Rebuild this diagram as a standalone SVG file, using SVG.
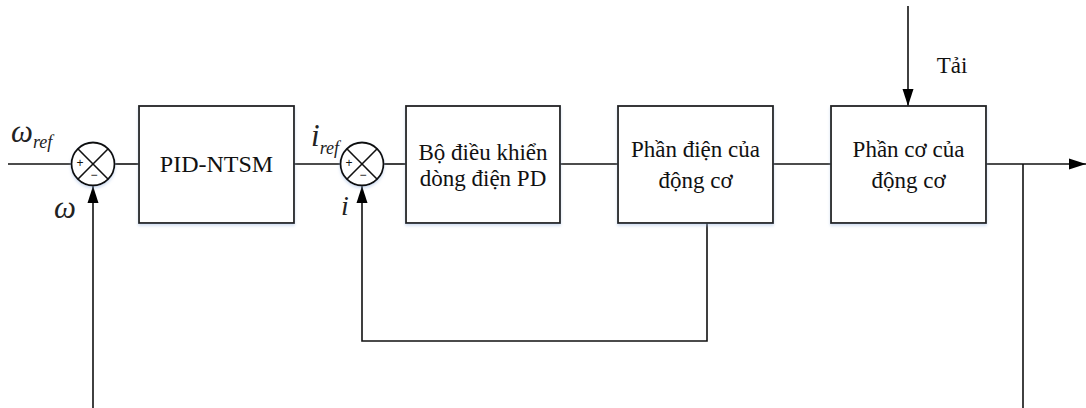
<svg xmlns="http://www.w3.org/2000/svg" width="1086" height="408" viewBox="0 0 1086 408">
  <style>
    .blk { fill: #fff; stroke: #222; stroke-width: 1.8; filter: url(#sh); }
    .sum { fill: #fff; stroke: #111; stroke-width: 1.8; filter: url(#sh); }
    .x { stroke: #111; stroke-width: 1.6; }
    .ln { fill: none; stroke: #111; stroke-width: 1.6; }
    .t { font-family: "Liberation Serif", "DejaVu Serif", serif; font-size: 23px; fill: #111; text-anchor: middle; }
    .sym { font-family: "Liberation Serif", "DejaVu Serif", serif; font-style: italic; fill: #222; }
    .sg { font-family: "Liberation Sans", Arial, sans-serif; font-size: 12px; fill: #111; text-anchor: middle; }
  </style>
  <defs>
    <filter id="sh" x="-10%" y="-10%" width="120%" height="130%">
      <feDropShadow dx="0" dy="2" stdDeviation="1.5" flood-color="#9db8e0" flood-opacity="0.45"/>
    </filter>
    <marker id="arr" markerUnits="userSpaceOnUse" markerWidth="18" markerHeight="12" refX="17" refY="6" orient="auto">
      <path d="M0,0.5 L17,6 L0,11.5 Z" fill="#000"/>
    </marker>
  </defs>

  <rect width="1086" height="408" fill="#fff"/>

  <!-- connectors -->
  <g id="connectors">
    <line class="ln" x1="8" y1="164" x2="72" y2="164"/>
    <line class="ln" x1="114" y1="164" x2="139" y2="164"/>
    <line class="ln" x1="294" y1="164" x2="341" y2="164"/>
    <line class="ln" x1="383" y1="164" x2="406" y2="164"/>
    <line class="ln" x1="560" y1="164" x2="618" y2="164"/>
    <line class="ln" x1="773" y1="164" x2="831" y2="164"/>
    <line class="ln" x1="986" y1="164" x2="1086" y2="164" marker-end="url(#arr)"/>
    <!-- load disturbance -->
    <line class="ln" x1="908" y1="6" x2="908" y2="106" marker-end="url(#arr)"/>
    <!-- current feedback loop -->
    <polyline class="ln" points="707,223 707,341 362,341 362,186" marker-end="url(#arr)"/>
    <!-- speed feedback loop -->
    <line class="ln" x1="93" y1="408" x2="93" y2="186" marker-end="url(#arr)"/>
    <line class="ln" x1="1023" y1="164" x2="1023" y2="408"/>
  </g>

  <!-- speed summing junction -->
  <g id="sum1">
    <circle class="sum" cx="93" cy="164" r="21.5"/>
    <line class="x" x1="77.8" y1="148.8" x2="108.2" y2="179.2"/>
    <line class="x" x1="108.2" y1="148.8" x2="77.8" y2="179.2"/>
    <text class="sg" x="80" y="167">+</text>
    <text class="sg" x="94" y="179">−</text>
  </g>

  <g id="pid-ntsm">
    <rect class="blk" x="139" y="106" width="155" height="117"/>
    <text class="t" x="216.5" y="172" style="font-size:24px">PID-NTSM</text>
  </g>

  <!-- current summing junction -->
  <g id="sum2">
    <circle class="sum" cx="362" cy="164" r="21.5"/>
    <line class="x" x1="346.8" y1="148.8" x2="377.2" y2="179.2"/>
    <line class="x" x1="377.2" y1="148.8" x2="346.8" y2="179.2"/>
    <text class="sg" x="349" y="167">+</text>
    <text class="sg" x="363" y="179">−</text>
  </g>

  <g id="pd-controller">
    <rect class="blk" x="406" y="106" width="154" height="117"/>
    <text class="t" x="483" y="160">Bộ điều khiển</text>
    <text class="t" x="483" y="186">dòng điện PD</text>
  </g>

  <g id="electrical">
    <rect class="blk" x="618" y="106" width="155" height="117"/>
    <text class="t" x="695.5" y="157">Phần điện của</text>
    <text class="t" x="695.5" y="188">động cơ</text>
  </g>

  <g id="mechanical">
    <rect class="blk" x="831" y="106" width="155" height="117"/>
    <text class="t" x="908.5" y="157">Phần cơ của</text>
    <text class="t" x="908.5" y="188">động cơ</text>
  </g>

  <!-- signal labels -->
  <g id="labels">
    <text class="sym" x="11" y="142" font-size="31">ω<tspan font-size="18" dy="6">ref</tspan></text>
    <text class="sym" x="54" y="218" font-size="31">ω</text>
    <text class="sym" x="311" y="146" font-size="31">i<tspan font-size="18" dy="8">ref</tspan></text>
    <text class="sym" x="341" y="215" font-size="28">i</text>
    <text class="t" x="952" y="73" style="font-size:23px">Tải</text>
  </g>
</svg>
